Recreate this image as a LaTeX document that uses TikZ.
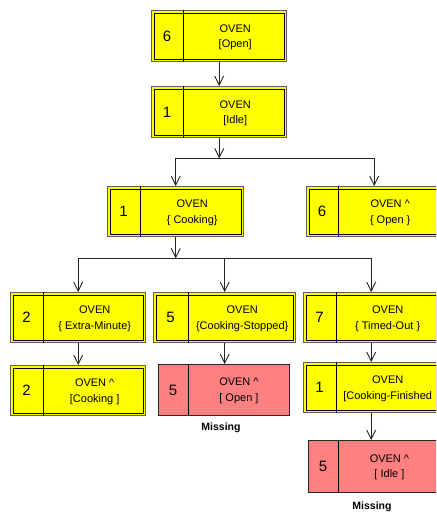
\documentclass[tikz,border=0pt]{standalone}
\usepackage{fontspec}
\setmainfont{Liberation Sans}
\usetikzlibrary{arrows.meta,calc}

\definecolor{boxyellow}{RGB}{255,255,0}
\definecolor{boxred}{RGB}{255,128,128}
\definecolor{rimgray}{RGB}{95,95,95}
\definecolor{wire}{RGB}{35,35,35}

\tikzset{
  ybox/.style={rectangle, inner sep=0pt, fill=boxyellow, draw=rimgray, line width=1.4pt,
    path picture={\draw[black,line width=0.8pt]
      ([shift={(2.7pt,-2.7pt)}]path picture bounding box.north west) rectangle
      ([shift={(-2.7pt,2.7pt)}]path picture bounding box.south east);}},
  rbox/.style={rectangle, inner sep=0pt, fill=boxred, draw=black!85, line width=0.9pt},
  divider/.style={draw=black, line width=0.9pt},
  numtext/.style={inner sep=0pt, font=\fontsize{15}{18}\selectfont},
  labtext/.style={inner sep=0pt, align=center, font=\fontsize{11}{15.5}\selectfont},
  missing/.style={inner sep=0pt, font=\fontsize{10.5}{12}\selectfont\bfseries},
  wireline/.style={draw=wire, line width=0.9pt},
  conn/.style={wireline, -{Straight Barb[length=9pt,width=9pt,line width=0.9pt]}},
}

% state box: name, kind, left, top, width, height, divider offset, number, label
\newcommand\stbox[9]{%
  \node[#2, minimum width=#5pt, minimum height=#6pt, anchor=north west] (#1) at (#3pt,-#4pt) {};
  \draw[divider] ([xshift=#7pt]#1.north west) -- ([xshift=#7pt]#1.south west);
  \node[numtext] (#1num) at ([xshift=0.5*#7pt]#1.west) {#8};
  \node[labtext] (#1lab) at ([xshift=0.5*#7pt,yshift=-1pt]#1.center) {#9};
}

\begin{document}
\begin{tikzpicture}
\useasboundingbox (0,0) rectangle (436pt,-513pt);
\clip (0,0) rectangle (436pt,-513pt);

\stbox{n1}{ybox}{151}{10}{135}{51}{32}{6}{OVEN\\{}[Open]}
\stbox{n2}{ybox}{151}{86}{135}{51}{32}{1}{OVEN\\{}[Idle]}
\stbox{n3}{ybox}{107}{186}{136}{50}{33}{1}{OVEN\\\{ Cooking\}}
\stbox{n4}{ybox}{306}{186}{135}{50}{32}{6}{OVEN \textasciicircum\\\{ Open \}}
\stbox{n5}{ybox}{10}{292}{135}{50}{33}{2}{OVEN\\\{ Extra-Minute\}}
\stbox{n6}{ybox}{153}{292}{142}{50}{35}{5}{OVEN\\\{Cooking-Stopped\}}
\stbox{n7}{ybox}{303}{292}{135}{50}{33}{7}{OVEN\\\{ Timed-Out \}}
\stbox{n8}{ybox}{10}{365}{135}{50}{33}{2}{OVEN \textasciicircum\\{}[Cooking ]}
\stbox{n9}{rbox}{158}{364}{131}{51}{30}{5}{OVEN \textasciicircum\\{}[ Open ]}
\stbox{n10}{ybox}{303}{362}{135}{50}{33}{1}{OVEN\\{}[Cooking-Finished}
\stbox{n11}{rbox}{308}{440}{132}{52}{30}{5}{OVEN \textasciicircum\\{}[ Idle ]}

\node[missing] (m1) at (221pt,-428pt) {Missing};
\node[missing] (m2) at (372pt,-507pt) {Missing};

% junction points of the branching connectors
\coordinate (j1) at ([yshift=-20pt]n2.south);
\coordinate (j2) at ([yshift=-21pt]n3.south);

\draw[conn] (n1.south) -- (n2.north);
\draw[conn] (n2.south) -- (j1);
\draw[wireline] (n3.north |- j1) -- (n4.north |- j1);
\draw[conn] (n3.north |- j1) -- (n3.north);
\draw[conn] (n4.north |- j1) -- (n4.north);

\draw[conn] (n3.south) -- (j2);
\draw[wireline] (n5.north |- j2) -- (n7.north |- j2);
\draw[conn] (n5.north |- j2) -- (n5.north);
\draw[conn] (n6.north |- j2) -- (n6.north);
\draw[conn] (n7.north |- j2) -- (n7.north);

\draw[conn] (n5.south) -- (n8.north);
\draw[conn] (n6.south) -- (n6.south |- n9.north);
\draw[conn] (n7.south) -- (n10.north);
\draw[conn] (n10.south) -- (n10.south |- n11.north);
\end{tikzpicture}
\end{document}
